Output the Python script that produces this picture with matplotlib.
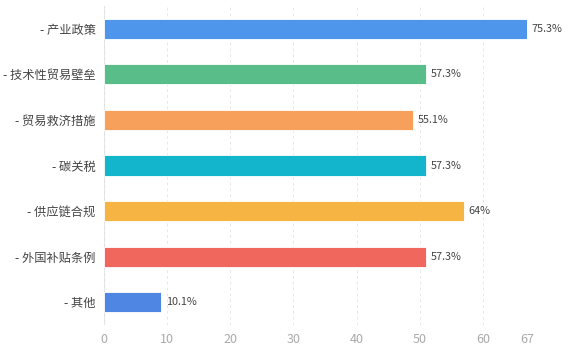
import matplotlib
matplotlib.use('Agg')
import matplotlib.pyplot as plt

plt.rcParams['font.family'] = ['Noto Sans CJK SC', 'DejaVu Sans']

# kategorije, broj odgovora i procenti
kategorije = ['产业政策', '技术性贸易壁垒', '贸易救济措施', '碳关税', '供应链合规', '外国补贴条例', '其他']
broj = [67, 51, 49, 51, 57, 51, 9]
procenti = ['75.3%', '57.3%', '55.1%', '57.3%', '64%', '57.3%', '10.1%']
boje = ['#4e95ec', '#58bd88', '#f7a05c', '#12b5cb', '#f6b443', '#f0675d', '#4f86e3']
x_ticks = [0, 10, 20, 30, 40, 50, 60, 67]

fig = plt.figure(figsize=(5.73, 3.55), dpi=100)
ax = fig.add_axes([104 / 573, 1 - 325 / 355, (527 - 104) / 573, (325 - 6) / 355])

y = list(range(len(kategorije)))
ax.barh(y, broj, height=0.44, color=boje, edgecolor='white', linewidth=0.6, zorder=3)

for yi, b, p in zip(y, broj, procenti):
    ax.text(b + 0.75, yi, p, va='center', ha='left', fontsize=7.8, color='#444444')

ax.set_xlim(0, 67)
ax.set_ylim(len(kategorije) - 0.5, -0.5)
ax.set_xticks(x_ticks)
ax.set_yticks(y)
ax.set_yticklabels(['- ' + k for k in kategorije])
ax.tick_params(axis='x', length=0, labelsize=9, labelcolor='#aaaaaa', pad=6)
ax.tick_params(axis='y', length=0, labelsize=8.8, labelcolor='#444444', pad=6)
ax.grid(axis='x', ls=(0, (3, 3)), color='#e8e8e8', lw=0.7, zorder=0)
for s in ax.spines.values():
    s.set_visible(False)
ax.axvline(0, color='#e0e0e0', lw=0.8, zorder=1)

fig.savefig('out.png', dpi=100)
